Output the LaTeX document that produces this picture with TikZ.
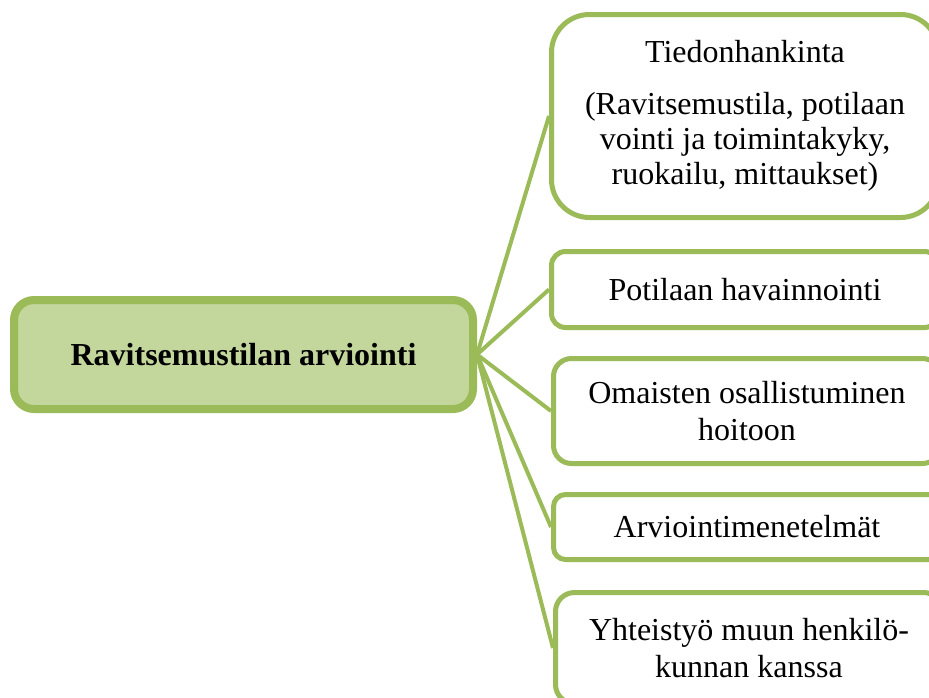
\documentclass[tikz,border=0pt]{standalone}
\usepackage{fontspec}
\setmainfont{Liberation Serif}
\usetikzlibrary{positioning}
\definecolor{leafgreen}{HTML}{9BBB59}
\definecolor{palegreen}{HTML}{C3D69B}

\begin{document}
\begin{tikzpicture}[x=1pt,y=-1pt,
  topic/.style={draw=leafgreen,line width=8pt,fill=palegreen,rounded corners=20pt,
    minimum width=459pt,minimum height=109pt,inner sep=0pt,
    font=\fontsize{32}{37}\selectfont\bfseries},
  item/.style={draw=leafgreen,line width=5pt,fill=white,inner sep=0pt,
    minimum width=387pt,align=center,font=\fontsize{32}{37}\selectfont},
  link/.style={draw=leafgreen,line width=4pt}]
\clip (0,0) rectangle (929,697);

% main topic
\node[topic] (arv) at (243.5,354.5) {Ravitsemustilan arviointi};

% branches
\node[item,minimum height=203pt,rounded corners=38pt,font=\fontsize{32}{35}\selectfont] (tieto) at (745,116)
  {Tiedonhankinta\\[17pt](Ravitsemustila, potilaan\\vointi ja toimintakyky,\\ruokailu, mittaukset)};
\node[item,minimum height=76pt,rounded corners=14pt] (havainto) at (745,289.5)
  {Potilaan havainnointi};
\node[item,minimum height=105pt,rounded corners=18pt] (omaiset) at (747,411)
  {Omaisten osallistuminen\\hoitoon};
\node[item,minimum height=65pt,rounded corners=12pt] (menetelma) at (747,527)
  {Arviointimenetelmät};
\node[item,minimum height=111pt,rounded corners=19pt] (yhteis) at (749,648)
  {Yhteistyö muun henkilö-\\kunnan kanssa};

% connectors
\draw[link] (arv.east) -- (tieto.west);
\draw[link] (arv.east) -- (havainto.west);
\draw[link] (arv.east) -- (omaiset.west);
\draw[link] (arv.east) -- (menetelma.west);
\draw[link] (arv.east) -- (yhteis.west);
\end{tikzpicture}
\end{document}
